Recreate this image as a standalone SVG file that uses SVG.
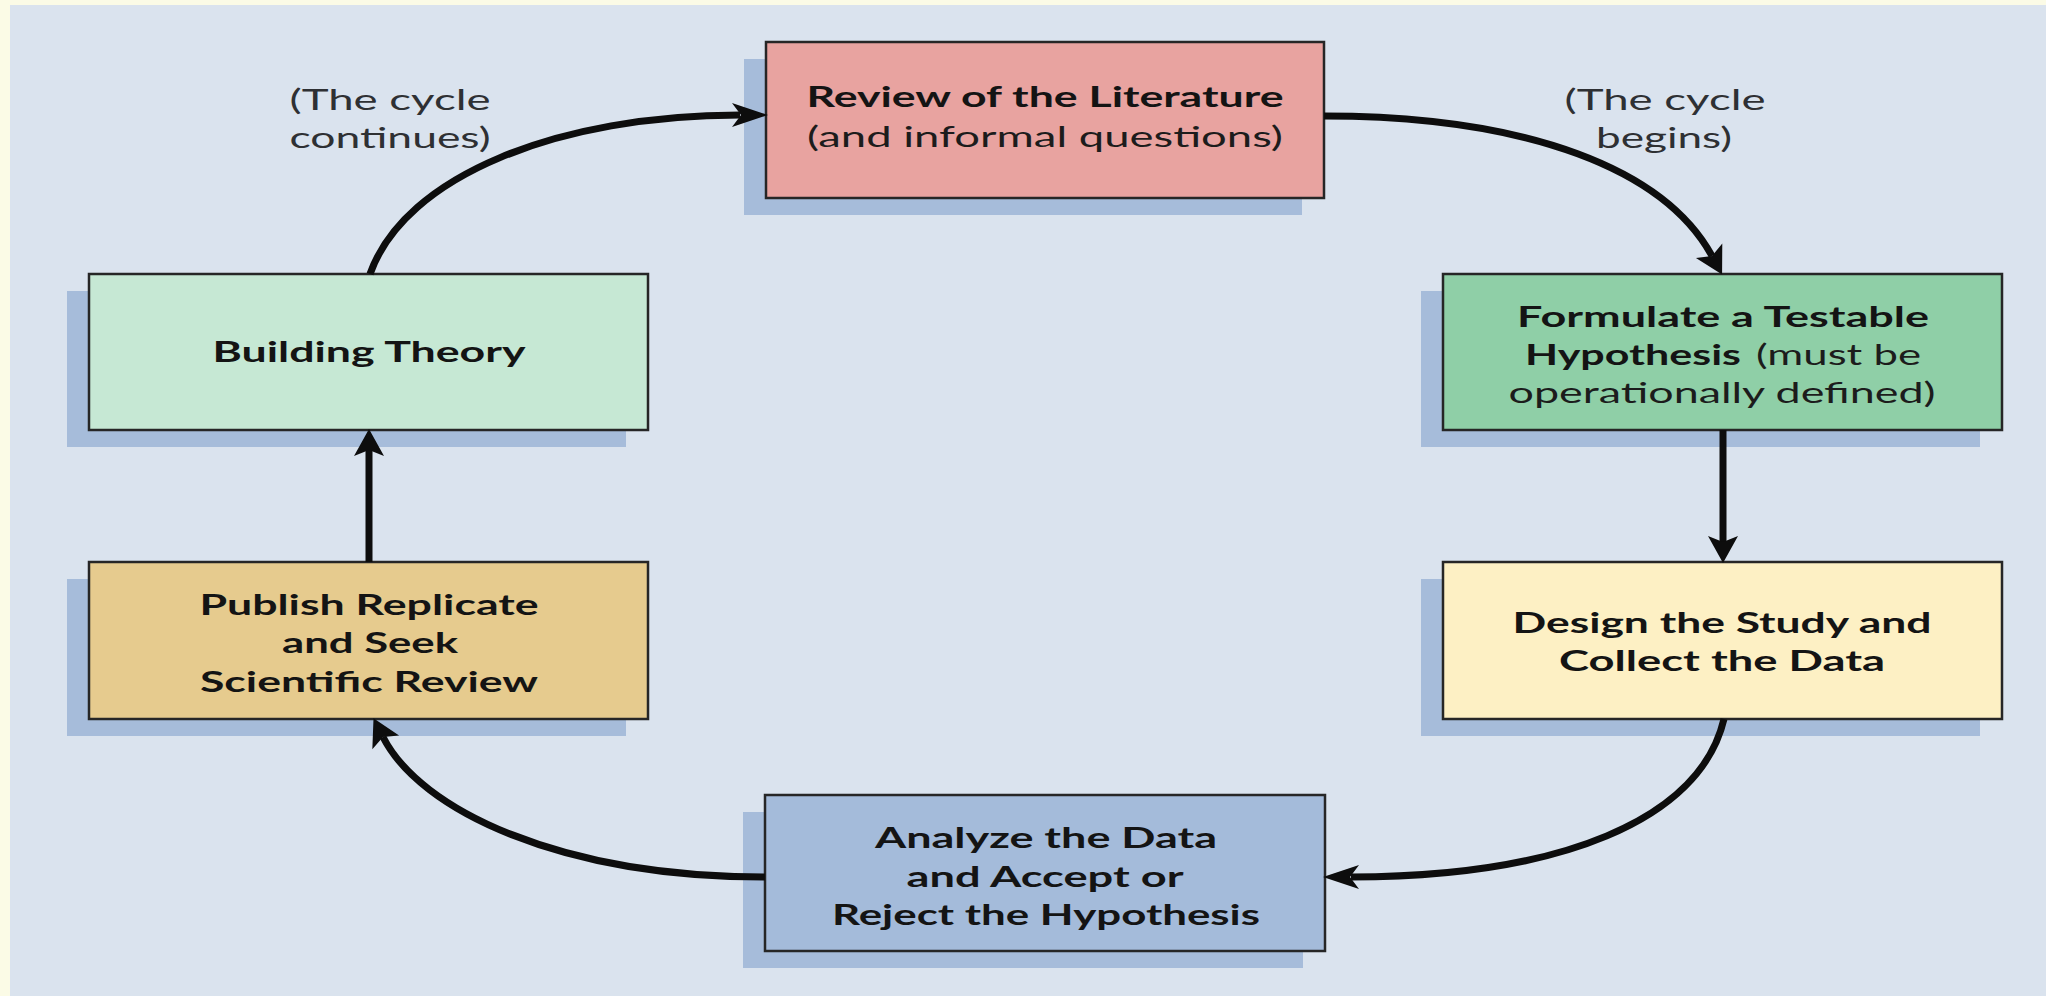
<svg xmlns="http://www.w3.org/2000/svg" width="2046" height="996" viewBox="0 0 2046 996">
  <defs>
    <style>
      .shadow { fill: #a6bcda; }
      .box { stroke: #262626; stroke-width: 2.5; }
      .b { font-family: Lato, "Open Sans", "Liberation Sans", sans-serif; font-weight: bold; font-size: 29px; fill: #141414; }
      .r { font-family: Lato, "Open Sans", "Liberation Sans", sans-serif; font-weight: normal; font-size: 29px; fill: #1c1c1c; }
      .lbl { font-family: Lato, "Open Sans", "Liberation Sans", sans-serif; font-size: 29px; fill: #2e3033; }
      .c { text-anchor: middle; }
      .conn { fill: none; stroke: #0d0d0d; stroke-width: 7; }
    </style>
    <marker id="ah" markerUnits="userSpaceOnUse" markerWidth="38" markerHeight="26" refX="8" refY="13" orient="auto" overflow="visible">
      <path d="M0,1 L36,13 L0,25 L9,13 Z" fill="#0d0d0d"/>
    </marker>
    <marker id="av" markerUnits="userSpaceOnUse" markerWidth="28" markerHeight="30" refX="6" refY="15" orient="auto" overflow="visible">
      <path d="M0,0 L27,15 L0,30 L6,15 Z" fill="#0d0d0d"/>
    </marker>
  </defs>

  <rect x="0" y="0" width="2046" height="996" fill="#fbfbe6"/>
  <rect x="10" y="5" width="2036" height="991" fill="#dae3ee"/>

  <g id="review">
    <rect class="shadow" x="744" y="59" width="558" height="156"/>
    <rect class="box" x="766" y="42" width="558" height="156" fill="#e8a3a0"/>
    <text class="b c" x="1045" y="107" textLength="477" lengthAdjust="spacingAndGlyphs">Review of the Literature</text>
    <text class="r c" x="1045" y="147" textLength="476" lengthAdjust="spacingAndGlyphs">(and informal questions)</text>
  </g>

  <g id="building">
    <rect class="shadow" x="67" y="291" width="559" height="156"/>
    <rect class="box" x="89" y="274" width="559" height="156" fill="#c6e8d4"/>
    <text class="b c" x="369" y="362" textLength="313" lengthAdjust="spacingAndGlyphs">Building Theory</text>
  </g>

  <g id="formulate">
    <rect class="shadow" x="1421" y="291" width="559" height="156"/>
    <rect class="box" x="1443" y="274" width="559" height="156" fill="#8fcfa7"/>
    <text class="b c" x="1723" y="327" textLength="412" lengthAdjust="spacingAndGlyphs">Formulate a Testable</text>
    <text class="b" x="1525" y="365" textLength="216" lengthAdjust="spacingAndGlyphs">Hypothesis</text>
    <text class="r" x="1756" y="365" textLength="165" lengthAdjust="spacingAndGlyphs">(must be</text>
    <text class="r c" x="1722" y="403" textLength="427" lengthAdjust="spacingAndGlyphs">operationally defined)</text>
  </g>

  <g id="design">
    <rect class="shadow" x="1421" y="579" width="559" height="157"/>
    <rect class="box" x="1443" y="562" width="559" height="157" fill="#fdf0c4"/>
    <text class="b c" x="1722" y="633" textLength="419" lengthAdjust="spacingAndGlyphs">Design the Study and</text>
    <text class="b c" x="1722" y="671" textLength="326" lengthAdjust="spacingAndGlyphs">Collect the Data</text>
  </g>

  <g id="analyze">
    <rect class="shadow" x="743" y="812" width="560" height="156"/>
    <rect class="box" x="765" y="795" width="560" height="156" fill="#a4bbda"/>
    <text class="b c" x="1046" y="848" textLength="342" lengthAdjust="spacingAndGlyphs">Analyze the Data</text>
    <text class="b c" x="1045" y="887" textLength="277" lengthAdjust="spacingAndGlyphs">and Accept or</text>
    <text class="b c" x="1046" y="925" textLength="428" lengthAdjust="spacingAndGlyphs">Reject the Hypothesis</text>
  </g>

  <g id="publish">
    <rect class="shadow" x="67" y="579" width="559" height="157"/>
    <rect class="box" x="89" y="562" width="559" height="157" fill="#e6cb8e"/>
    <text class="b c" x="369" y="615" textLength="339" lengthAdjust="spacingAndGlyphs">Publish Replicate</text>
    <text class="b c" x="370" y="653" textLength="176" lengthAdjust="spacingAndGlyphs">and Seek</text>
    <text class="b c" x="369" y="692" textLength="338" lengthAdjust="spacingAndGlyphs">Scientific Review</text>
  </g>

  <g id="label-continues">
    <text class="lbl c" x="390" y="110" textLength="201" lengthAdjust="spacingAndGlyphs">(The cycle</text>
    <text class="lbl c" x="390" y="148" textLength="201" lengthAdjust="spacingAndGlyphs">continues)</text>
  </g>
  <g id="label-begins">
    <text class="lbl c" x="1665" y="110" textLength="201" lengthAdjust="spacingAndGlyphs">(The cycle</text>
    <text class="lbl c" x="1664" y="148" textLength="136" lengthAdjust="spacingAndGlyphs">begins)</text>
  </g>

  <g id="connectors">
    <path class="conn" d="M370,274 C405,175 560,115 740,115" marker-end="url(#ah)"/>
    <path class="conn" d="M1324,116 C1530,116 1665,170 1712,256" marker-end="url(#av)"/>
    <path class="conn" d="M1723,430 L1723,542" marker-end="url(#av)"/>
    <path class="conn" d="M1724,719 C1700,820 1560,877 1351,877" marker-end="url(#ah)"/>
    <path class="conn" d="M765,877 C560,877 420,810 383,737" marker-end="url(#av)"/>
    <path class="conn" d="M369,562 L369,450" marker-end="url(#av)"/>
  </g>
</svg>
